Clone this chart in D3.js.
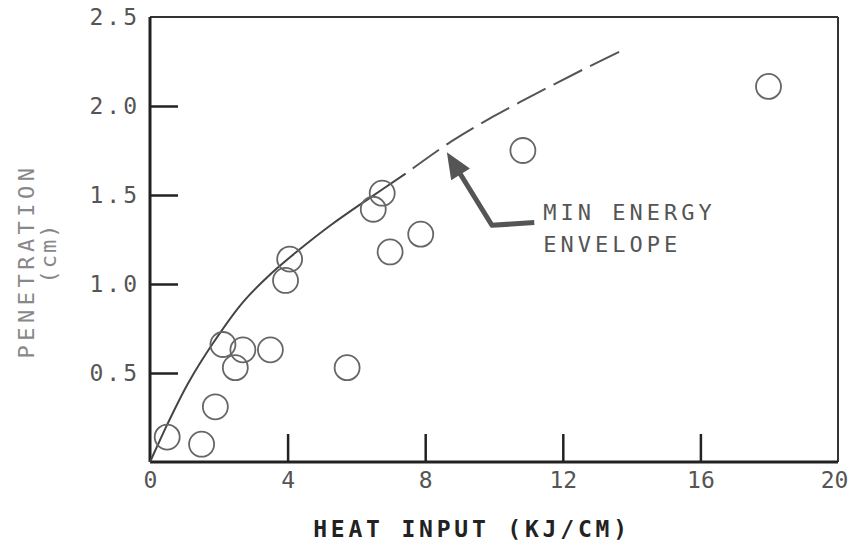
<!DOCTYPE html>
<html>
<head>
<meta charset="utf-8">
<script src="https://cdn.jsdelivr.net/npm/d3@7"></script>
<style>
  html, body { margin: 0; padding: 0; background: #fff; }
  svg { display: block; }
</style>
</head>
<body>
<svg id="chart" width="853" height="546"></svg>
<script>
// ---- data ----
const xTicks = [0, 4, 8, 12, 16, 20];
const yTicks = [0.5, 1.0, 1.5, 2.0, 2.5];
const yTickLabels = ["0.5", "1.0", "1.5", "2.0", "2.5"];

// measured points (heat input kJ/cm, penetration cm)
const heatInput   = [0.5, 1.5, 1.9, 2.12, 2.7, 2.48, 3.5, 5.73, 4.06, 3.94, 6.98, 6.49, 6.75, 7.87, 10.84, 17.98];
const penetration = [0.14, 0.10, 0.31, 0.66, 0.63, 0.53, 0.63, 0.53, 1.14, 1.02, 1.18, 1.42, 1.51, 1.28, 1.75, 2.11];

// min energy envelope, solid part
const envSolidX = [0, 0.2, 0.5, 1.1, 1.84, 2.71, 3.5, 4.29, 5.25, 6.36, 7.43];
const envSolidY = [0, 0.085, 0.21, 0.44, 0.67, 0.90, 1.055, 1.185, 1.33, 1.48, 1.62];
// envelope, dashed extrapolation
const envDashX = [7.43, 8.75, 9.97, 11.28, 12.59, 13.7];
const envDashY = [1.62, 1.80, 1.94, 2.075, 2.205, 2.31];

// annotation (data coordinates)
const arrowTip = [8.63, 1.74];
const arrowElbow = [9.94, 1.33];
const arrowTail = [11.17, 1.345];
const annoLines = ["MIN ENERGY", "ENVELOPE"];
const annoAnchor = [11.43, 1.36];

// ---- layout ----
const svg = d3.select("#chart");
const x = d3.scaleLinear().domain([0, 20]).range([150, 838]);
const y = d3.scaleLinear().domain([0, 2.5]).range([462, 17]);

const mono = "'DejaVu Sans Mono', 'Liberation Mono', monospace";

// frame
svg.append("line").attr("x1", x(0)).attr("x2", x(20)).attr("y1", y(2.5)).attr("y2", y(2.5))
  .attr("stroke", "#333").attr("stroke-width", 2);
svg.append("line").attr("x1", x(20)).attr("x2", x(20)).attr("y1", y(2.5)).attr("y2", y(0))
  .attr("stroke", "#333").attr("stroke-width", 2);

// y axis
const yAxis = svg.append("g").attr("transform", `translate(${x(0)},0)`)
  .call(d3.axisLeft(y).tickValues(yTicks).tickSize(-28).tickPadding(10)
    .tickFormat((d, i) => yTickLabels[i]));
yAxis.select(".domain").remove();
yAxis.selectAll(".tick line").attr("stroke", "#222").attr("stroke-width", 2.5)
  .filter(d => d === 2.5).remove();
yAxis.selectAll(".tick text").attr("font-family", mono).attr("font-size", 23)
  .attr("letter-spacing", 3).attr("fill", "#555");

// x axis
const xAxis = svg.append("g").attr("transform", `translate(0,${y(0)})`)
  .call(d3.axisBottom(x).tickValues(xTicks).tickSize(-28).tickPadding(10)
    .tickFormat(d3.format("d")));
xAxis.select(".domain").remove();
xAxis.selectAll(".tick line").attr("stroke", "#222").attr("stroke-width", 2.5)
  .filter(d => d === 0 || d === 20).remove();
xAxis.selectAll(".tick text").attr("font-family", mono).attr("font-size", 23)
  .attr("fill", "#555")
  .attr("dx", d => d === 20 ? -4 : 0);

// main axis lines
svg.append("line").attr("x1", x(0)).attr("x2", x(0)).attr("y1", y(2.5)).attr("y2", y(0))
  .attr("stroke", "#222").attr("stroke-width", 3);
svg.append("line").attr("x1", x(0)).attr("x2", x(20)).attr("y1", y(0)).attr("y2", y(0))
  .attr("stroke", "#222").attr("stroke-width", 3);

// envelope curve
const line = d3.line().x(d => x(d[0])).y(d => y(d[1])).curve(d3.curveCatmullRom.alpha(0.5));
svg.append("path").datum(envSolidX.map((v, i) => [v, envSolidY[i]]))
  .attr("d", line).attr("fill", "none").attr("stroke", "#444").attr("stroke-width", 2);
svg.append("path").datum(envDashX.map((v, i) => [v, envDashY[i]]))
  .attr("d", line).attr("fill", "none").attr("stroke", "#555").attr("stroke-width", 2)
  .attr("stroke-dasharray", "32 9").attr("stroke-dashoffset", 32);

// data circles
svg.append("g").selectAll("circle")
  .data(heatInput.map((v, i) => [v, penetration[i]]))
  .join("circle")
  .attr("cx", d => x(d[0])).attr("cy", d => y(d[1])).attr("r", 12.5)
  .attr("fill", "none").attr("stroke", "#666").attr("stroke-width", 1.8);

// arrow
const tip = [x(arrowTip[0]), y(arrowTip[1])];
const elb = [x(arrowElbow[0]), y(arrowElbow[1])];
const tail = [x(arrowTail[0]), y(arrowTail[1])];
const dx = tip[0] - elb[0], dy = tip[1] - elb[1];
const L = Math.hypot(dx, dy), ux = dx / L, uy = dy / L;
const headLen = 26, headHalf = 11;
const base = [tip[0] - ux * headLen, tip[1] - uy * headLen];
svg.append("polyline")
  .attr("points", [tail, elb, [base[0] + ux * 4, base[1] + uy * 4]].map(p => p.join(",")).join(" "))
  .attr("fill", "none").attr("stroke", "#555").attr("stroke-width", 5).attr("stroke-linejoin", "round");
svg.append("polygon")
  .attr("points", [tip, [base[0] - uy * headHalf, base[1] + ux * headHalf],
    [base[0] + uy * headHalf, base[1] - ux * headHalf]].map(p => p.join(",")).join(" "))
  .attr("fill", "#555");

// annotation text
svg.append("g").selectAll("text").data(annoLines).join("text")
  .attr("x", x(annoAnchor[0])).attr("y", (d, i) => y(annoAnchor[1]) + i * 32)
  .attr("font-family", mono).attr("font-size", 22).attr("letter-spacing", 4)
  .attr("fill", "#555").text(d => d);

// axis titles
svg.append("text").attr("x", 472).attr("y", 537).attr("text-anchor", "middle")
  .attr("font-family", mono).attr("font-size", 23).attr("font-weight", "bold")
  .attr("letter-spacing", 3.8).attr("fill", "#222").text("HEAT INPUT (KJ/CM)");

const yt = svg.append("g").attr("transform", "translate(34,261) rotate(-90)");
yt.append("text").attr("x", 0).attr("y", 0).attr("text-anchor", "middle")
  .attr("font-family", mono).attr("font-size", 22).attr("letter-spacing", 4.5)
  .attr("fill", "#888").text("PENETRATION");
yt.append("text").attr("x", 8).attr("y", 22).attr("text-anchor", "middle")
  .attr("font-family", mono).attr("font-size", 22).attr("letter-spacing", 2)
  .attr("fill", "#888").text("(cm)");
</script>
</body>
</html>
